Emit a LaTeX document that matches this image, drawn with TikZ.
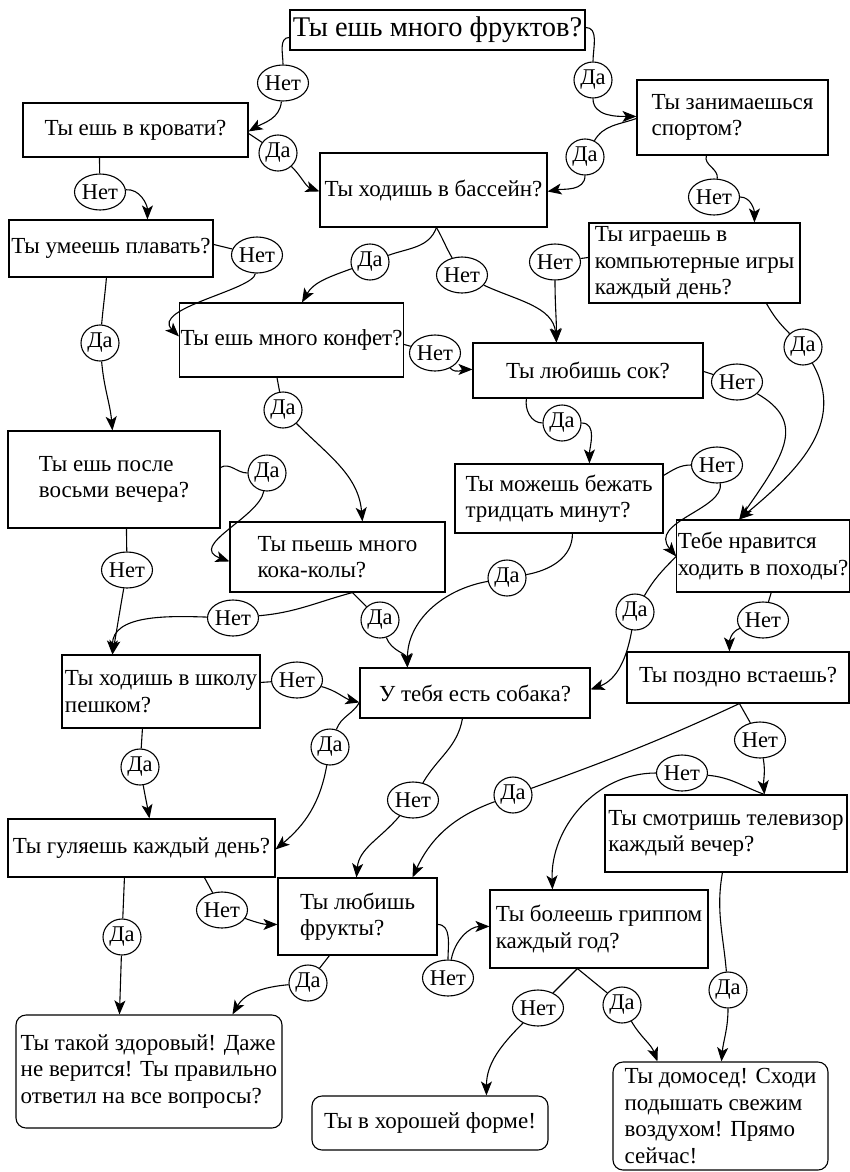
\documentclass[tikz,border=0pt]{standalone}
\usepackage{fontspec}
\setmainfont{Liberation Serif}
\usetikzlibrary{arrows.meta,shapes.geometric}
\tikzset{
  box/.style={draw, line width=1.1pt, inner sep=1pt, align=left, font=\fontsize{23}{26.5}\selectfont},
  rbox/.style={box, rounded corners=10pt},
  lab/.style={draw, ellipse, line width=1.1pt, inner sep=0pt, minimum width=38pt, minimum height=36pt, font=\fontsize{22.5}{22.5}\selectfont, fill=white},
  con/.style={line width=1.1pt},
  arr/.style={con, -{Stealth[length=14pt,width=11pt,inset=3.5pt]}},
}
\begin{document}
\begin{tikzpicture}[x=1pt,y=1pt]
\path[fill=white,use as bounding box] (0,0) rectangle (850,-1172);
% boxes
\node[box, font=\fontsize{28.5}{32}\selectfont, minimum width=295pt, minimum height=40pt] (q1) at (437.5,-30) {Ты ешь много фруктов?};
\node[box, minimum width=225pt, minimum height=54pt] (krov) at (135.5,-130) {Ты ешь в кровати?};
\node[box, minimum width=227pt, minimum height=74pt] (bass) at (433.5,-190) {Ты ходишь в бассейн?};
\node[box, minimum width=191pt, minimum height=75pt] (sport) at (732.5,-117.5) {Ты занимаешься\\спортом?};
\node[box, minimum width=211pt, minimum height=80pt] (comp) at (694.5,-263) {Ты играешь в\\компьютерные игры\\каждый день?};
\node[box, minimum width=204pt, minimum height=57pt] (plav) at (111,-248.5) {Ты умеешь плавать?};
\node[box, minimum width=223pt, minimum height=74pt] (konf) at (291.5,-340) {Ты ешь много конфет?};
\node[box, minimum width=230pt, minimum height=55pt] (sok) at (588,-370.5) {Ты любишь сок?};
\node[box, minimum width=212pt, minimum height=97pt] (posle) at (114,-479.5) {Ты ешь после\\восьми вечера?};
\node[box, minimum width=215pt, minimum height=70pt] (kola) at (337.5,-557) {Ты пьешь много\\кока-колы?};
\node[box, minimum width=208pt, minimum height=69pt] (bezh) at (559,-498.5) {Ты можешь бежать\\тридцать минут?};
\node[box, minimum width=172pt, minimum height=72pt] (pohod) at (763,-556) {Тебе нравится\\ходить в походы?};
\node[box, minimum width=198pt, minimum height=73pt] (shkola) at (161,-691.5) {Ты ходишь в школу\\пешком?};
\node[box, minimum width=230pt, minimum height=50pt] (sobaka) at (475,-693) {У тебя есть собака?};
\node[box, minimum width=222pt, minimum height=51pt] (pozdno) at (738,-677.5) {Ты поздно встаешь?};
\node[box, minimum width=267pt, minimum height=58pt] (gulya) at (141.5,-848) {Ты гуляешь каждый день?};
\node[box, minimum width=159pt, minimum height=77pt] (frukty) at (357.5,-916.5) {Ты любишь\\фрукты?};
\node[box, minimum width=242pt, minimum height=77pt] (tv) at (726,-833.5) {Ты смотришь телевизор\\каждый вечер?};
\node[box, minimum width=218pt, minimum height=78pt] (gripp) at (599,-929) {Ты болеешь гриппом\\каждый год?};
\node[rbox, minimum width=266pt, minimum height=113pt] (zdor) at (149,-1071.5) {Ты такой здоровый! Даже\\не верится! Ты правильно\\ответил на все вопросы?};
\node[rbox, minimum width=236pt, minimum height=54pt] (forma) at (430,-1123) {Ты в хорошей форме!};
\node[rbox, minimum width=215pt, minimum height=108pt] (domosed) at (720.5,-1116) {Ты домосед! Сходи\\подышать свежим\\воздухом! Прямо\\сейчас!};
% labels
\node[lab] (n1) at (283,-83) {Нет};
\node[lab] (d1) at (593,-80) {Да};
\node[lab] (d2) at (278,-153) {Да};
\node[lab] (d3) at (585,-157) {Да};
\node[lab] (n2) at (100,-192) {Нет};
\node[lab] (n3) at (714,-197) {Нет};
\node[lab] (n4) at (257,-255) {Нет};
\node[lab] (d4) at (370,-262) {Да};
\node[lab] (n5) at (462,-275) {Нет};
\node[lab] (n6) at (555,-262) {Нет};
\node[lab] (d5) at (100,-343) {Да};
\node[lab] (n7) at (435,-353) {Нет};
\node[lab] (d6) at (803,-347) {Да};
\node[lab] (n8) at (737,-382) {Нет};
\node[lab] (d7) at (283,-410) {Да};
\node[lab] (d8) at (562,-423) {Да};
\node[lab] (n9) at (717,-465) {Нет};
\node[lab] (d9) at (267,-473) {Да};
\node[lab] (n10) at (127,-570) {Нет};
\node[lab] (d10) at (507,-578) {Да};
\node[lab] (d11) at (380,-620) {Да};
\node[lab] (n11) at (233,-618) {Нет};
\node[lab] (d12) at (635,-612) {Да};
\node[lab] (n12) at (763,-620) {Нет};
\node[lab] (n13) at (297,-680) {Нет};
\node[lab] (n14) at (760,-740) {Нет};
\node[lab] (d13) at (330,-747) {Да};
\node[lab] (d14) at (140,-767) {Да};
\node[lab] (n15) at (682,-773) {Нет};
\node[lab] (d15) at (513,-795) {Да};
\node[lab] (n16) at (413,-800) {Нет};
\node[lab] (n17) at (222,-910) {Нет};
\node[lab] (d16) at (122,-937) {Да};
\node[lab] (n18) at (448,-978) {Нет};
\node[lab] (d17) at (308,-983) {Да};
\node[lab] (d18) at (728,-990) {Да};
\node[lab] (d19) at (622,-1005) {Да};
\node[lab] (n19) at (538,-1008) {Нет};
% connectors
\draw[con] ([yshift=-28pt]q1.north west) to[out=180,in=90] (n1);
\draw[arr] (n1) to[out=-95,in=30] ([yshift=-29pt]krov.north east);
\draw[con] ([yshift=-31pt]krov.north east) to (d2);
\draw[arr] (d2) to[out=-45,in=160] ([yshift=-39pt]bass.north west);
\draw[con] ([yshift=-18pt]q1.north east) to[out=0,in=90] (d1);
\draw[arr] (d1) to[out=-90,in=180] ([yshift=-37pt]sport.north west);
\draw[con] ([yshift=-39pt]sport.north west) to[out=200,in=60] (d3);
\draw[arr] (d3) to[out=-90,in=10] ([yshift=-39pt]bass.north east);
\draw[con] ([xshift=70pt]sport.south west) to[out=-110,in=80] (n3);
\draw[arr] (n3) to[out=0,in=90] ([xshift=166pt]comp.north west);
\draw[con] ([xshift=77pt]krov.south west) to (n2);
\draw[arr] (n2) to[out=5,in=90] ([xshift=139pt]plav.north west);
\draw[con] ([yshift=-25pt]plav.north east) to (n4);
\draw[arr] (n4) .. controls +(-95:35) and +(135:40) .. ([yshift=-34pt]konf.north west);
\draw[con] ([xshift=117pt]bass.south west) to[out=-110,in=20] (d4);
\draw[arr] (d4) to[out=200,in=60] ([xshift=123pt]konf.north west);
\draw[con] ([xshift=117pt]bass.south west) to[out=-60,in=120] (n5);
\draw[arr] (n5) to[out=-25,in=95] ([xshift=84pt]sok.north west);
\draw[con] ([yshift=-35pt]comp.north west) to (n6);
\draw[arr] (n6) to[out=-90,in=90] ([xshift=84pt]sok.north west);
\draw[con] ([xshift=98pt]plav.south west) to[out=-95,in=85] (d5);
\draw[arr] (d5) to[out=-85,in=95] ([xshift=105pt]posle.north west);
\draw[con] ([yshift=-42pt]konf.north east) to (n7);
\draw[arr] (n7) to[out=-45,in=180] ([yshift=-27pt]sok.north west);
\draw[con] ([xshift=178pt]comp.south west) to[out=-60,in=135] (d6);
\draw[arr] (d6) .. controls +(-60:90) and +(40:70) .. ([xshift=63pt]pohod.north west);
\draw[con] ([yshift=-29pt]sok.north east) to (n8);
\draw[arr] (n8) .. controls +(-30:80) and +(55:80) .. ([xshift=63pt]pohod.north west);
\draw[con] ([xshift=98pt]konf.south west) to (d7);
\draw[arr] (d7) to[out=-45,in=95] ([xshift=133pt]kola.north west);
\draw[con] ([xshift=54pt]sok.south west) to[out=-100,in=180] (d8);
\draw[arr] (d8) to[out=0,in=90] ([xshift=135pt]bezh.north west);
\draw[con] ([yshift=-12pt]bezh.north east) to[out=30,in=180] (n9);
\draw[arr] (n9) .. controls +(-80:45) and +(130:45) .. ([yshift=-37pt]pohod.north west);
\draw[con] ([xshift=118pt]bezh.south west) to[out=-90,in=10] (d10);
\draw[arr] (d10) to[out=190,in=90] ([xshift=48pt]sobaka.north west);
\draw[con] ([xshift=123pt]kola.south west) to (d11);
\draw[arr] (d11) to[out=-70,in=95] ([xshift=48pt]sobaka.north west);
\draw[con] ([xshift=123pt]kola.south west) to[out=195,in=5] (n11);
\draw[arr] (n11) to[out=178,in=90] ([xshift=51pt]shkola.north west);
\draw[con] ([yshift=-37pt]posle.north east) to[out=30,in=180] (d9);
\draw[arr] (d9) .. controls +(-100:45) and +(160:45) .. ([yshift=-40pt]kola.north west);
\draw[con] ([xshift=119pt]posle.south west) to (n10);
\draw[arr] (n10) to[out=-100,in=80] ([xshift=51pt]shkola.north west);
\draw[con] ([yshift=-37pt]pohod.north west) to[out=225,in=60] (d12);
\draw[arr] (d12) to[out=-100,in=20] ([yshift=-22pt]sobaka.north east);
\draw[con] ([xshift=95pt]pohod.south west) to (n12);
\draw[arr] (n12) to[out=200,in=90] ([xshift=103pt]pozdno.north west);
\draw[con] ([yshift=-28pt]shkola.north east) to (n13);
\draw[arr] (n13) to[out=-15,in=165] ([yshift=-35pt]sobaka.north west);
\draw[con] ([yshift=-35pt]sobaka.north west) to[out=240,in=70] (d13);
\draw[arr] (d13) to[out=-100,in=40] ([yshift=-31pt]gulya.north east);
\draw[con] ([xshift=81pt]shkola.south west) to (d14);
\draw[arr] (d14) to[out=-80,in=100] ([xshift=142pt]gulya.north west);
\draw[con] ([xshift=113pt]pozdno.south west) to (n14);
\draw[arr] (n14) to[out=-80,in=95] ([xshift=160pt]tv.north west);
\draw[con] ([xshift=113pt]pozdno.south west) to[out=205,in=20] (d15);
\draw[arr] (d15) to[out=200,in=65] ([xshift=135pt]frukty.north west);
\draw[con] ([xshift=160pt]tv.north west) to[out=160,in=-5] (n15);
\draw[arr] (n15) to[out=180,in=92] ([xshift=63pt]gripp.north west);
\draw[con] ([xshift=103pt]sobaka.south west) to[out=-100,in=60] (n16);
\draw[arr] (n16) to[out=230,in=85] ([xshift=79pt]frukty.north west);
\draw[con] ([xshift=197pt]gulya.south west) to (n17);
\draw[arr] (n17) to[out=-20,in=180] ([yshift=-47pt]frukty.north west);
\draw[con] ([xshift=117pt]gulya.south west) to (d16);
\draw[arr] (d16) to ([xshift=104pt]zdor.north west);
\draw[con] ([yshift=-47pt]frukty.north east) to[out=0,in=90] (n18);
\draw[arr] (n18) to[out=80,in=180] ([yshift=-37pt]gripp.north west);
\draw[con] ([xshift=52pt]frukty.south west) to (d17);
\draw[arr] (d17) to[out=185,in=60] ([xshift=217pt]zdor.north west);
\draw[con] ([xshift=118pt]tv.south west) to[out=-100,in=95] (d18);
\draw[arr] (d18) to[out=-90,in=85] ([xshift=109pt]domosed.north west);
\draw[con] ([xshift=88pt]gripp.south west) to (d19);
\draw[arr] (d19) to[out=-60,in=110] ([xshift=45pt]domosed.north west);
\draw[con] ([xshift=88pt]gripp.south west) to (n19);
\draw[arr] (n19) to[out=225,in=90] ([xshift=175pt]forma.north west);
\end{tikzpicture}
\end{document}
